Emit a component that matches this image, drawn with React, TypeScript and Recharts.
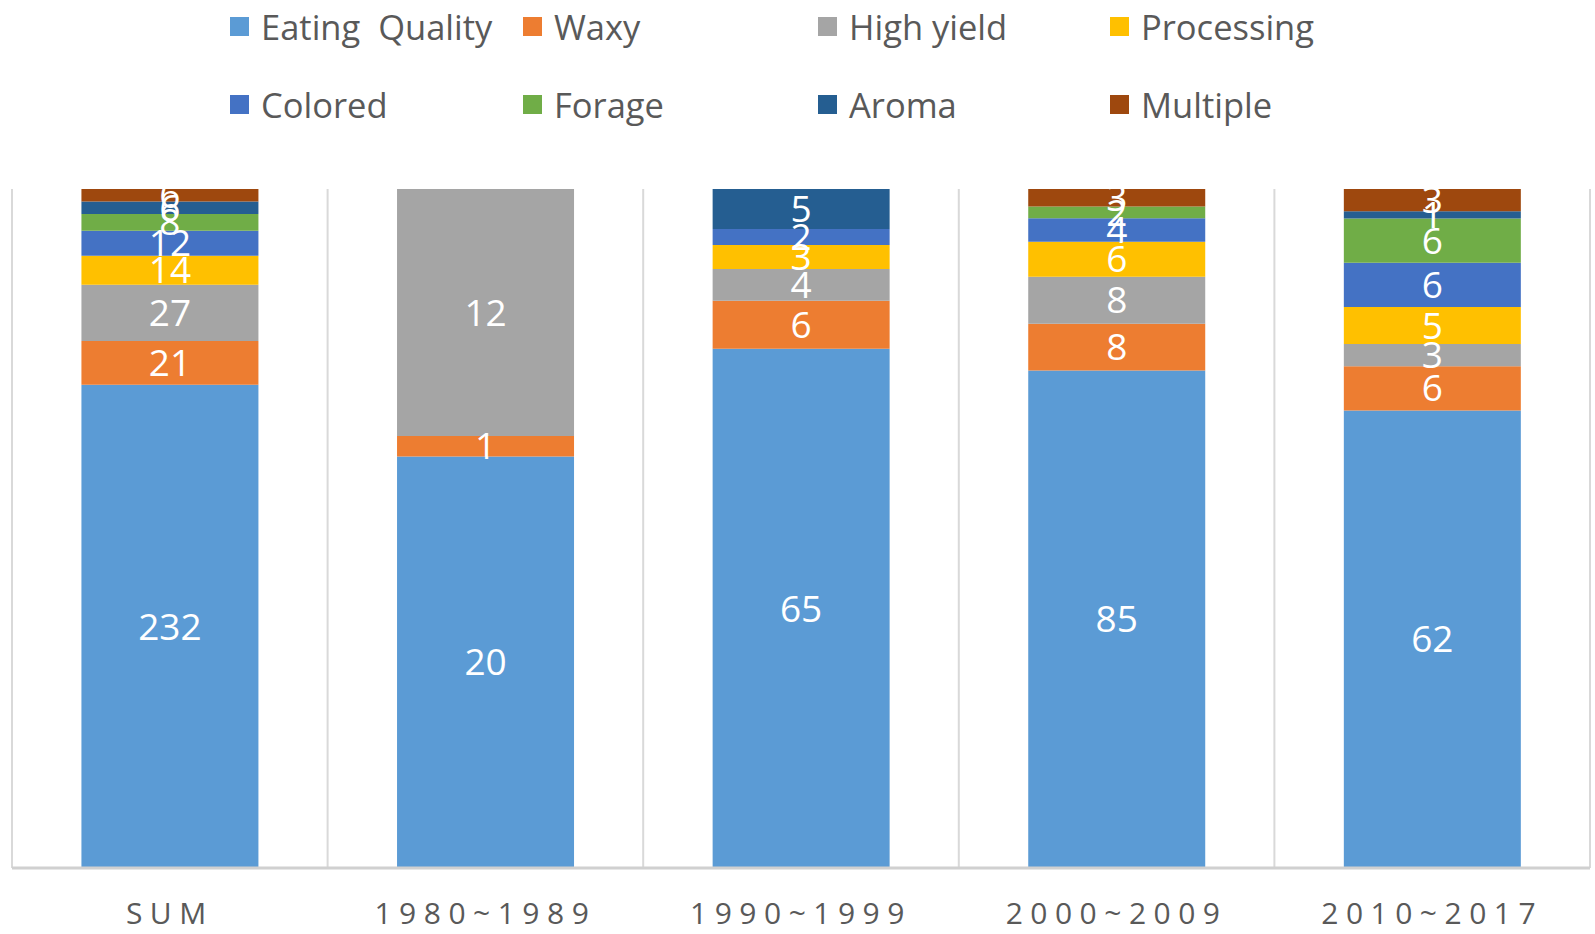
import React from "react";
import { BarChart, Bar, XAxis, YAxis, CartesianGrid, LabelList } from "recharts";

const categories = ["SUM", "1980~1989", "1990~1999", "2000~2009", "2010~2017"];

const eatingQuality = [232, 20, 65, 85, 62];
const waxy = [21, 1, 6, 8, 6];
const highYield = [27, 12, 4, 8, 3];
const processing = [14, 0, 3, 6, 5];
const colored = [12, 0, 2, 4, 6];
const forage = [8, 0, 0, 2, 6];
const aroma = [6, 0, 5, 0, 1];
const multiple = [6, 0, 0, 3, 3];

const series = [
  { key: "eating", name: "Eating  Quality", color: "#5B9BD5", values: eatingQuality },
  { key: "waxy", name: "Waxy", color: "#ED7D31", values: waxy },
  { key: "highYield", name: "High yield", color: "#A5A5A5", values: highYield },
  { key: "processing", name: "Processing", color: "#FFC000", values: processing },
  { key: "colored", name: "Colored", color: "#4472C4", values: colored },
  { key: "forage", name: "Forage", color: "#70AD47", values: forage },
  { key: "aroma", name: "Aroma", color: "#255E91", values: aroma },
  { key: "multiple", name: "Multiple", color: "#9E480E", values: multiple },
];

const data = categories.map((cat, i) => {
  const row: Record<string, string | number> = { cat };
  series.forEach((s) => {
    row[s.key] = s.values[i];
  });
  return row;
});

const FONT = "'Open Sans', 'Noto Sans', sans-serif";
const W = 1595;
const H = 934;

function SpacedTick(props: any) {
  const { x, y, payload } = props;
  return (
    <text
      x={x}
      y={y + 48}
      textAnchor="middle"
      fill="#595959"
      fontFamily={FONT}
      fontSize={30}
      letterSpacing={7.5}
    >
      {payload.value}
    </text>
  );
}

// legend laid out in a 4-column grid above the plot
const legendCols = [230, 523, 818, 1110];
const legendRows = [26, 104];

function ChartLegend() {
  return (
    <>
      {series.map((s, i) => (
        <div
          key={s.key}
          style={{
            position: "absolute",
            left: legendCols[i % 4],
            top: legendRows[Math.floor(i / 4)] - 22,
            height: 44,
            display: "flex",
            alignItems: "center",
            fontFamily: FONT,
            fontSize: 34.5,
            color: "#595959",
            whiteSpace: "pre",
          }}
        >
          <span style={{ width: 19, height: 19, background: s.color, marginRight: 12, display: "inline-block" }} />
          {s.name}
        </div>
      ))}
    </>
  );
}

export default function App() {
  return (
    <div style={{ position: "absolute", left: 0, top: 0, width: W, height: H, background: "#fff" }}>
      <ChartLegend />
      <BarChart
        width={W}
        height={H}
        data={data}
        stackOffset="expand"
        barCategoryGap="22%"
        margin={{ top: 189, right: 5, bottom: 0, left: 12 }}
      >
        <CartesianGrid
          horizontal={false}
          stroke="#D9D9D9"
          strokeWidth={2}
          verticalCoordinatesGenerator={({ offset }: any) =>
            categories.concat("").map((_, i) => offset.left + (i * offset.width) / categories.length)
          }
        />
        <XAxis
          dataKey="cat"
          height={66}
          interval={0}
          tickLine={false}
          axisLine={{ stroke: "#D0D0D0", strokeWidth: 3 }}
          tick={<SpacedTick />}
        />
        <YAxis hide domain={[0, 1]} />
        {series.map((s) => (
          <Bar key={s.key} dataKey={s.key} stackId="a" fill={s.color} isAnimationActive={false}>
            <LabelList
              dataKey={s.key}
              position="center"
              fill="#fff"
              fontSize={37}
              fontFamily={FONT}
              formatter={(v: any) => (Number(v) > 0 ? v : "")}
            />
          </Bar>
        ))}
      </BarChart>
    </div>
  );
}
